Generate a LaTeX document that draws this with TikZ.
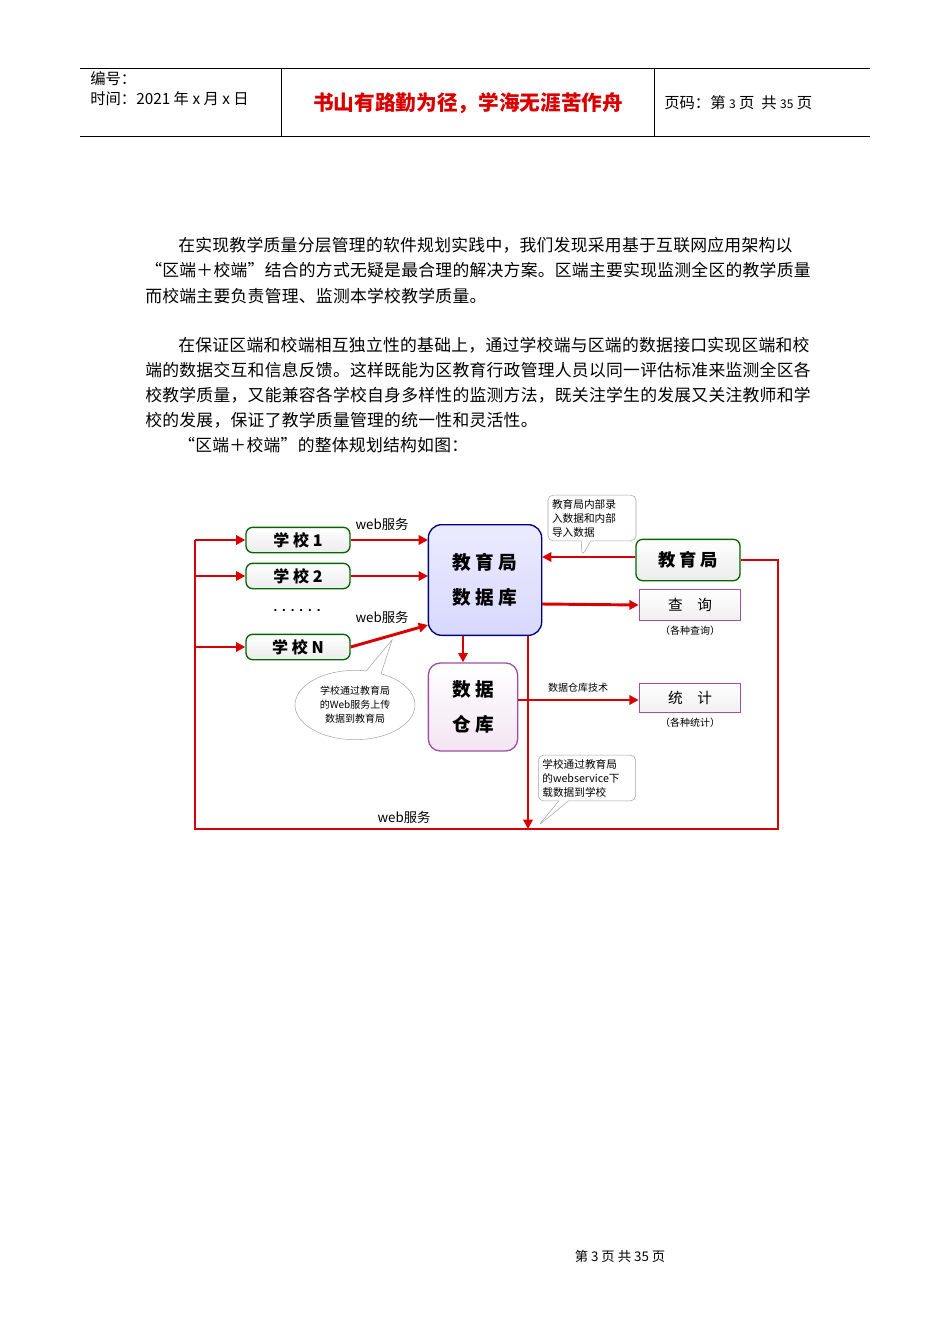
\documentclass[tikz,border=0pt]{standalone}
\usepackage{fontspec}
\setmainfont{Liberation Sans}
\newfontfamily\cjk{Noto Sans CJK SC}
\newfontfamily\cjkp[LetterSpace=1.6]{Noto Sans CJK SC}
\usetikzlibrary{arrows.meta,shapes.callouts,shapes.geometric}
\begin{document}
\begin{tikzpicture}[x=0.75pt,y=-0.75pt,
  rl/.style={draw=red!85!black,line width=2.2pt},
  ra/.style={rl,-{Triangle[length=7pt,width=7pt]}},
  gbox/.style={draw=green!40!black,line width=1pt,rounded corners=5pt,top color=white,bottom color=gray!15,font=\cjk\bfseries\fontsize{12}{14}\selectfont},
  pbox/.style={draw=violet!70,line width=1pt,top color=white,bottom color=gray!12,font=\cjk\fontsize{11}{13}\selectfont},
  par/.style={anchor=west,font=\cjkp\fontsize{12.6}{15}\selectfont,inner sep=0},
  small/.style={font=\cjk\fontsize{7.5}{10}\selectfont,align=left},
  callbox/.style={rectangle callout,draw=gray!70,fill=white,rounded corners=4pt,small}
]
\useasboundingbox (0,0) rectangle (950,1344);
% header
\draw[line width=0.6pt] (80,68) -- (870,68) (80,136) -- (870,136) (281,68) -- (281,136) (654,68) -- (654,136);
\node[anchor=west,inner sep=0,font=\cjk\fontsize{11.5}{13}\selectfont] (bh) at (90,79) {编号：};
\node[anchor=west,inner sep=0,font=\cjk\fontsize{11.5}{13}\selectfont] (sj) at (90,99) {时间：2021 年 x 月 x 日};
\node[inner sep=0,text=red!85!black,font=\cjk\bfseries\fontsize{15.5}{18}\selectfont] (tt) at (468,103) {书山有路勤为径，学海无涯苦作舟};
\node[anchor=west,inner sep=0,font=\cjk\fontsize{11.5}{13}\selectfont] (ym) at (664,103) {页码：第 {\small 3} 页\ \ 共 {\small 35} 页};
% paragraphs
\node[par] (l1) at (178,245) {在实现教学质量分层管理的软件规划实践中，我们发现采用基于互联网应用架构以};
\node[par] (l2) at (145,270) {“区端＋校端”结合的方式无疑是最合理的解决方案。区端主要实现监测全区的教学质量};
\node[par] (l3) at (145,296) {而校端主要负责管理、监测本学校教学质量。};
\node[par] (l4) at (178,345) {在保证区端和校端相互独立性的基础上，通过学校端与区端的数据接口实现区端和校};
\node[par] (l5) at (145,370) {端的数据交互和信息反馈。这样既能为区教育行政管理人员以同一评估标准来监测全区各};
\node[par] (l6) at (145,395) {校教学质量，又能兼容各学校自身多样性的监测方法，既关注学生的发展又关注教师和学};
\node[par] (l7) at (145,420) {校的发展，保证了教学质量管理的统一性和灵活性。};
\node[par] (l8) at (178,445) {“区端＋校端”的整体规划结构如图：};
% diagram nodes
\node[gbox,minimum width=78pt,minimum height=19pt] (s1) at (298,540) {学 校 1};
\node[gbox,minimum width=78pt,minimum height=19pt] (s2) at (298,576) {学 校 2};
\node[inner sep=0,font=\bfseries] (dots) at (297,611) {. . . . . .};
\node[gbox,minimum width=78pt,minimum height=19pt] (sn) at (298,647) {学 校 N};
\node[draw=blue!50!black,line width=1pt,rounded corners=10pt,top color=blue!8,bottom color=blue!15,minimum width=85pt,minimum height=83pt,align=center,font=\cjk\bfseries\fontsize{14}{26}\selectfont] (db) at (485,580) {教 育 局\\数 据 库};
\node[gbox,minimum width=78pt,minimum height=31pt,font=\cjk\bfseries\fontsize{13}{15}\selectfont] (jy) at (688,560) {教 育 局};
\node[pbox,minimum width=76pt,minimum height=23pt] (cx) at (690,605) {查\quad 询};
\node[small] (cxl) at (690,631) {（各种查询）};
\node[draw=violet!70,line width=1pt,rounded corners=9pt,top color=white,bottom color=violet!10,minimum width=67pt,minimum height=66pt,align=center,font=\cjk\bfseries\fontsize{14}{26}\selectfont] (wh) at (473,707) {数 据\\仓 库};
\node[pbox,minimum width=76pt,minimum height=22pt] (tj) at (690,698) {统\quad 计};
\node[small] (tjl) at (690,723) {（各种统计）};
\node[small] (wht) at (578,688) {数据仓库技术};
\node[font=\cjk\fontsize{10}{12}\selectfont] (w1) at (382,524) {web服务};
\node[font=\cjk\fontsize{10}{12}\selectfont] (w2) at (382,617) {web服务};
\node[font=\cjk\fontsize{10}{12}\selectfont] (w3) at (404,817) {web服务};
% coordinates
\coordinate (lt) at (195,540);
\coordinate (lb) at (195,829);
\coordinate (rb) at (778,829);
\coordinate (rt) at (778,560);
\coordinate (vb) at (528,829);
% connectors
\draw[rl] (jy.east) -- (rt) -- (rb) -- (lb) -- (lt);
\draw[ra] (lt) -- (s1.west);
\draw[ra] (195,576) -- (s2.west);
\draw[ra] (195,647) -- (sn.west);
\draw[ra] (s1.east) -- (428,540);
\draw[ra] (s2.east) -- (428,576);
\draw[ra] (sn.east) -- (428,625);
\draw[ra] (jy.west |- 0,557) -- (542,557);
\draw[ra] (542,604) -- (cx.west);
\draw[ra] (463,636) -- (wh.north -| 463,0);
\draw[ra] (wh.east |- 0,700) -- (tj.west |- 0,700);
\draw[ra] (528,636) -- (vb);
% callouts
\node[callbox,callout absolute pointer={(582,556)},text width=60pt,inner sep=3pt,font=\cjk\fontsize{8}{10.5}\selectfont] (c1) at (592,518) {教育局内部录\\入数据和内部\\导入数据};
\node[ellipse callout,draw=gray!70,fill=white,callout absolute pointer={(392,640)},minimum width=90pt,minimum height=52pt,inner sep=0pt,align=center,font=\cjk\fontsize{7.5}{10.5}\selectfont] (c2) at (355,705) {学校通过教育局\\的Web服务上传\\数据到教育局};
\node[callbox,callout absolute pointer={(538,826)},text width=67pt,inner sep=3pt,font=\cjk\fontsize{8}{10.5}\selectfont] (c3) at (587,778) {学校通过教育局\\的webservice下\\载数据到学校};
% footer
\node[font=\cjk\fontsize{10}{12}\selectfont] (ft) at (620,1256) {第\ 3\ 页\ 共\ 35\ 页};
\end{tikzpicture}
\end{document}
